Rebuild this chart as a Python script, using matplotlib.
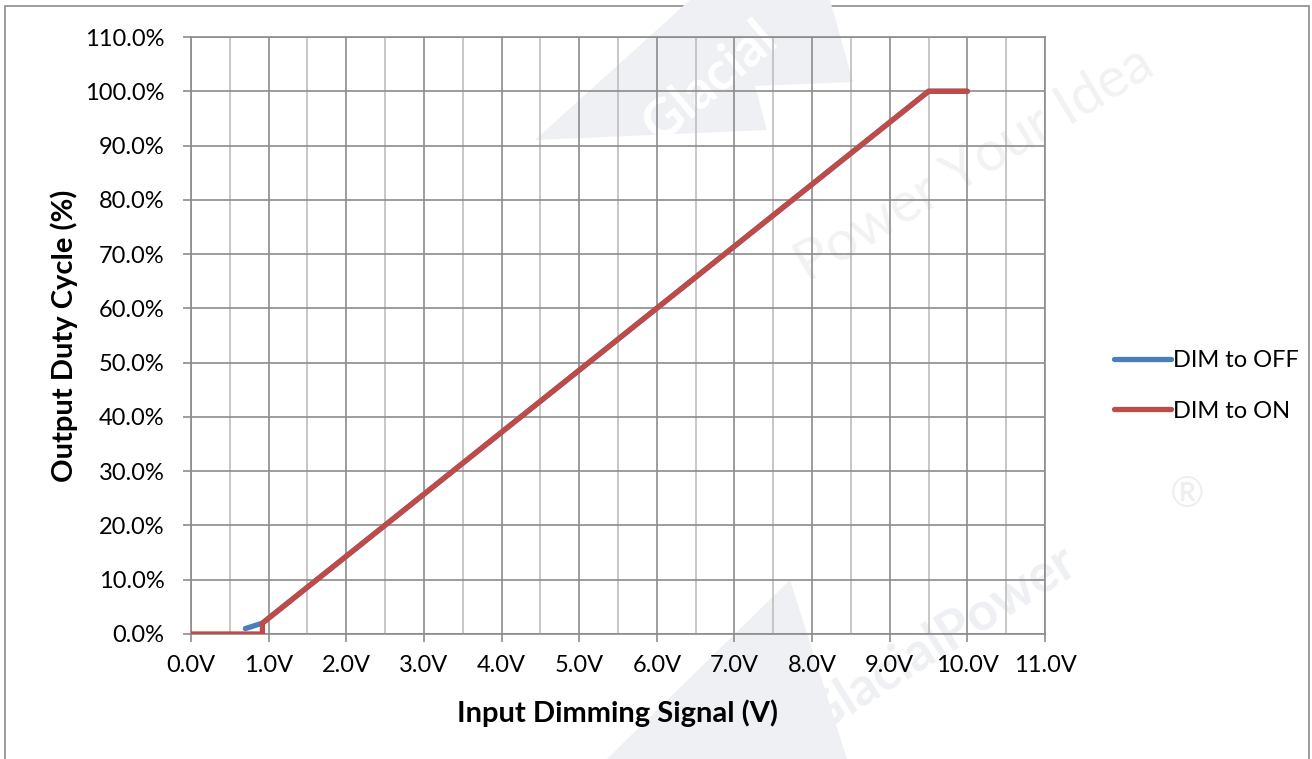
import matplotlib.pyplot as plt
import matplotlib.patches as mpatches
import numpy as np
from matplotlib.ticker import FuncFormatter, MultipleLocator

plt.rcParams['font.family'] = ['Lato', 'DejaVu Sans']

# dados
x_off = [0.7, 0.92, 9.5, 10.0]
y_off = [1.0, 2.0, 100.0, 100.0]
x_on = [0.0, 0.92, 0.92, 9.5, 10.0]
y_on = [0.0, 0.0, 2.0, 100.0, 100.0]

cor_azul = '#4A7EBB'
cor_verm = '#BE4B48'
cor_grade = '#8C8C8C'
cor_grade_menor = '#BDBDBD'
cor_marca = '#EEF0F4'

W, H = 1312, 759


def fp(x, y):
    # pixel -> coordenadas da figura
    return (x / W, 1 - y / H)


fig = plt.figure(figsize=(W / 100, H / 100), dpi=100)
fig.patch.set_facecolor('white')

# moldura externa
fig.patches.append(mpatches.Rectangle(fp(5, 770), 1304 / W, 764 / H,
                                      transform=fig.transFigure, fill=False,
                                      edgecolor='#8C8C8C', linewidth=1.2, zorder=-2))

# marca d'agua discreta (atras do grafico)
fig.patches.append(mpatches.Polygon([fp(535, 140), fp(690, 0), fp(830, 0), fp(853, 82),
                                     fp(755, 86), fp(767, 130)], closed=True,
                                    transform=fig.transFigure, facecolor=cor_marca,
                                    edgecolor='none', zorder=-2))
fig.patches.append(mpatches.Polygon([fp(607, 759), fp(790, 580), fp(847, 759)], closed=True,
                                    transform=fig.transFigure, facecolor=cor_marca,
                                    edgecolor='none', zorder=-2))
fig.text(*fp(710, 82), 'Glacial', fontsize=38, fontweight='bold', color='white',
         rotation=40, ha='center', va='center', zorder=-1)
fig.text(*fp(975, 165), 'Power Your Idea', fontsize=40, color='#F2F2F2',
         rotation=31, ha='center', va='center', zorder=-1)
fig.text(*fp(940, 640), 'GlacialPower', fontsize=38, fontweight='bold', color=cor_marca,
         rotation=32, ha='center', va='center', zorder=-1)
fig.text(*fp(1187, 495), '®', fontsize=30, color='#EEEEEE', ha='center', va='center',
         zorder=-1)

ax = fig.add_axes([191 / W, 1 - 634 / H, (1045 - 191) / W, (634 - 37) / H])
ax.set_facecolor('none')

ax.plot(x_off, y_off, color=cor_azul, linewidth=3.8, solid_capstyle='round',
        solid_joinstyle='round', label='DIM to OFF', zorder=4)
ax.plot(x_on, y_on, color=cor_verm, linewidth=3.8, solid_capstyle='round',
        solid_joinstyle='round', label='DIM to ON', zorder=5)

ax.set_xlim(0, 11)
ax.set_ylim(0, 110)
ax.xaxis.set_major_locator(MultipleLocator(1))
ax.xaxis.set_minor_locator(MultipleLocator(0.5))
ax.yaxis.set_major_locator(MultipleLocator(10))
ax.xaxis.set_major_formatter(FuncFormatter(lambda v, p: f'{v:.1f}V'))
ax.yaxis.set_major_formatter(FuncFormatter(lambda v, p: f'{v:.1f}%'))

ax.grid(True, which='major', color=cor_grade, linewidth=1.2, zorder=2)
ax.grid(True, which='minor', axis='x', color=cor_grade_menor, linewidth=1.2, zorder=2)
ax.set_axisbelow(False)

for lado in ['top', 'right', 'left', 'bottom']:
    ax.spines[lado].set_color(cor_grade)
    ax.spines[lado].set_linewidth(1.2)

ax.tick_params(axis='both', which='major', direction='out', length=6, width=1.2,
               color=cor_grade, labelsize=17, labelcolor='black')
ax.tick_params(axis='y', which='major', pad=13)
ax.tick_params(axis='x', which='major', pad=9)
ax.tick_params(axis='both', which='minor', length=0)

ax.set_xlabel('Input Dimming Signal (V)', fontsize=21, fontweight='bold', labelpad=17)
ax.set_ylabel('Output Duty Cycle (%)', fontsize=21, fontweight='bold', labelpad=5)

ax.legend(loc='center left', bbox_to_anchor=fp(1114, 386), bbox_transform=fig.transFigure,
          frameon=False, fontsize=17, handlelength=2.4, handletextpad=0.1,
          labelspacing=1.25, borderaxespad=0, borderpad=0)

plt.savefig('out.png', dpi=100, facecolor='white')
plt.close()
